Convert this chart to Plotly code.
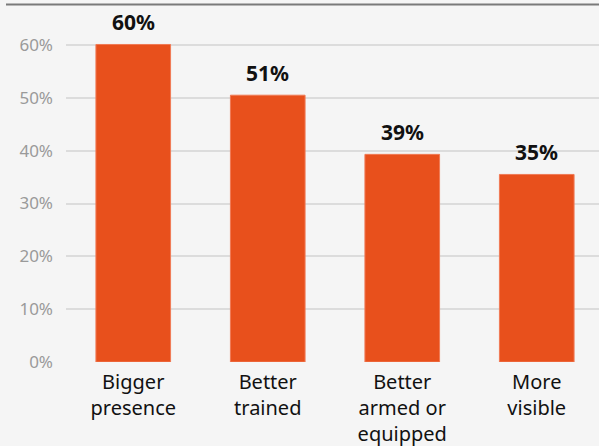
import plotly.graph_objects as go

categories = ["Bigger<br>presence", "Better<br>trained", "Better<br>armed or<br>equipped", "More<br>visible"]
values = [60.1, 50.5, 39.3, 35.5]
value_labels = ["60%", "51%", "39%", "35%"]
tick_vals = [0, 10, 20, 30, 40, 50, 60]
tick_text = ["0%", "10%", "20%", "30%", "40%", "50%", "60%"]

W, H = 604, 446
ml, mr, mt, mb = 66, 0, 10, 84
plot_w = W - ml - mr
plot_h = H - mt - mb
y_top = plot_h / (362 - 45) * 60
line_y = 1 + (mt - 4.5) / plot_h

fig = go.Figure(go.Bar(
    x=categories, y=values,
    marker=dict(color="#E8501C", line=dict(color="#F07A55", width=1)),
    cliponaxis=False, hoverinfo="skip",
))
annotations = [
    dict(x=c, y=v, text="<b>%s</b>" % t, showarrow=False, yanchor="bottom",
         yshift=6, font=dict(family="Noto Sans", size=21, color="#111111"))
    for c, v, t in zip(categories, values, value_labels)
]
fig.update_layout(
    width=W, height=H, margin=dict(l=ml, r=mr, t=mt, b=mb),
    paper_bgcolor="#F5F5F5", plot_bgcolor="#F5F5F5",
    bargap=0.445, showlegend=False,
    font=dict(family="Noto Sans"),
    annotations=annotations,
    xaxis=dict(showgrid=False, showline=False, ticks="",
               tickfont=dict(size=20, color="#111111"), ticklabelstandoff=6),
    yaxis=dict(range=[0, y_top], tickvals=tick_vals, ticktext=tick_text,
               showgrid=True, gridcolor="#DCDCDC", gridwidth=2, zeroline=False,
               tickfont=dict(size=17, color="#9A9A9A"), ticklabelstandoff=12),
    shapes=[dict(type="line", xref="paper", yref="paper",
                 x0=(6 - ml) / plot_w, x1=1, y0=line_y, y1=line_y,
                 line=dict(color="#7A7A7A", width=2))],
)
fig.write_html("out.html", config={"displayModeBar": False},
               post_script="document.body.style.margin='0';document.body.style.overflow='hidden';")
